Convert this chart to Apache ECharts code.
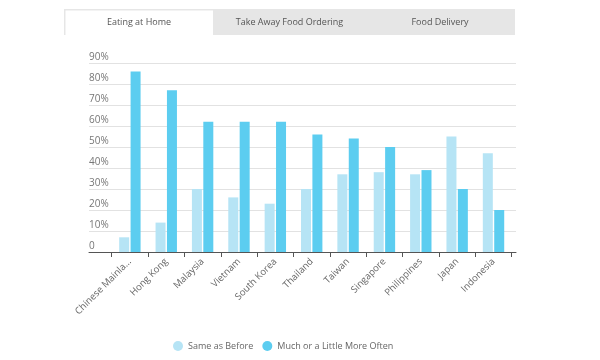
<!DOCTYPE html>
<html>
<head>
<meta charset="utf-8">
<script src="https://cdn.jsdelivr.net/npm/echarts@6/dist/echarts.min.js"></script>
<style>
html,body{margin:0;padding:0;background:#fff;}
#c{width:600px;height:360px;}
</style>
</head>
<body>
<div id="c"></div>
<script>
var categories = ['Chinese Mainland','Hong Kong','Malaysia','Vietnam','South Korea','Thailand','Taiwan','Singapore','Philippines','Japan','Indonesia'];
var sameAsBefore = [7,14,30,26,23,30,37,38,37,55,47];
var moreOften = [86,77,62,62,62,56,54,50,39,30,20];
var seriesNames = ['Same as Before','Much or a Little More Often'];
var tabs = ['Eating at Home','Take Away Food Ordering','Food Delivery'];
var yTicks = [0,10,20,30,40,50,60,70,80,90];

var chart = echarts.init(document.getElementById('c'), null, {renderer:'canvas'});
var font = "'Open Sans', 'Noto Sans', sans-serif";
var tabGraphics = [
  {type:'rect', shape:{x:64,y:9,width:451,height:26}, style:{fill:'#e6e6e6'}},
  {type:'rect', shape:{x:65.5,y:10.5,width:147.5,height:24.5}, style:{fill:'#ffffff'}}
];
tabs.forEach(function(t,i){
  tabGraphics.push({type:'text', x:139+i*150.5, y:22, style:{text:t, fill:'#555', font:'9px '+font, textAlign:'center', textVerticalAlign:'middle'}});
});

chart.setOption({
  animation:false,
  graphic: tabGraphics,
  color:['#b6e4f5','#5ccdf0'],
  legend:{
    data:seriesNames, left:173, top:341, padding:0, icon:'circle', itemWidth:10, itemHeight:10, itemGap:9, itemSpacing:5,
    textStyle:{color:'#666', fontSize:9, fontFamily:font}
  },
  grid:[
    {left:89, right:84, top:63, bottom:108},
    {left:111.7, right:88.3, top:63, bottom:108}
  ],
  xAxis:[
    {gridIndex:0, type:'value', min:0, max:1, axisLine:{show:true, lineStyle:{color:'#555', width:1}}, axisTick:{show:false}, axisLabel:{show:false}, splitLine:{show:false}},
    {gridIndex:1, type:'category', data:categories, axisLine:{show:false},
     axisTick:{show:true, length:5, lineStyle:{color:'#555'}},
     axisLabel:{rotate:45, color:'#666', fontSize:9.5, fontFamily:font, margin:8, width:80, overflow:'truncate', ellipsis:'...'}}
  ],
  yAxis:[
    {gridIndex:0, type:'value', min:0, max:90, interval:10,
     axisLine:{show:false}, axisTick:{show:false},
     splitLine:{lineStyle:{color:'#e2e2e2', width:1}},
     axisLabel:{inside:true, margin:0, verticalAlign:'bottom', padding:[0,0,1,0], color:'#777', fontSize:10, fontFamily:font,
       formatter:function(v){ return yTicks.indexOf(v)>=0 ? (v===0?'0':v+'%') : ''; }}},
    {gridIndex:1, type:'value', min:0, max:90, interval:10, show:false, splitLine:{show:false}}
  ],
  series:[
    {name:seriesNames[0], type:'bar', xAxisIndex:1, yAxisIndex:1, data:sameAsBefore, barWidth:10, barGap:'14%'},
    {name:seriesNames[1], type:'bar', xAxisIndex:1, yAxisIndex:1, data:moreOften, barWidth:10, barGap:'14%'}
  ]
});
</script>
</body>
</html>
